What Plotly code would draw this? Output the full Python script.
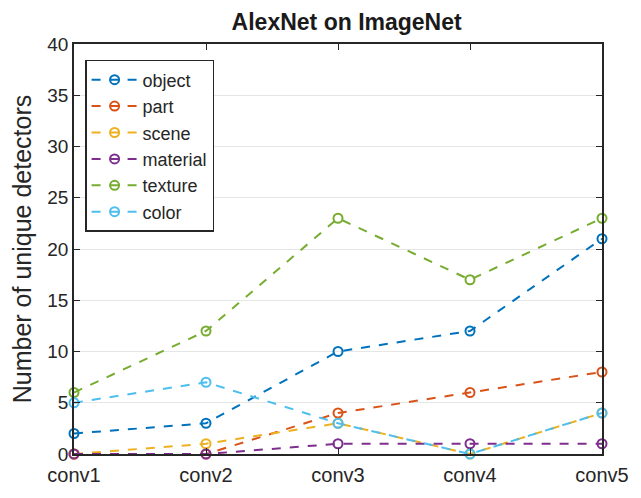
import plotly.graph_objects as go

layers = ["conv1", "conv2", "conv3", "conv4", "conv5"]
object_vals = [2, 3, 10, 12, 21]
part_vals = [0, 0, 4, 6, 8]
scene_vals = [0, 1, 3, 0, 4]
material_vals = [0, 0, 1, 1, 1]
texture_vals = [6, 12, 23, 17, 23]
color_vals = [5, 7, 3, 0, 4]

series = [
    ("object", object_vals, "#0072BD"),
    ("part", part_vals, "#D95319"),
    ("scene", scene_vals, "#EDB120"),
    ("material", material_vals, "#7E2F8E"),
    ("texture", texture_vals, "#77AC30"),
    ("color", color_vals, "#4DBEEE"),
]

fig = go.Figure()
for name, vals, col in series:
    fig.add_trace(go.Scatter(
        x=list(range(len(layers))), y=vals, name=name, mode="lines+markers",
        line=dict(color=col, width=2, dash="dash"),
        marker=dict(symbol="circle-open", size=9, color=col, line=dict(width=2)),
        cliponaxis=False,
    ))

font = "Liberation Sans, Arial, sans-serif"
fig.update_layout(
    width=633, height=490,
    margin=dict(l=66, r=33, t=36, b=40),
    paper_bgcolor="white", plot_bgcolor="white",
    font=dict(family=font, size=19, color="#262626"),
    title=dict(text="<b>AlexNet on ImageNet</b>", x=0.535, xanchor="center",
               y=0.972, yanchor="middle", font=dict(size=23, color="#1a1a1a")),
    showlegend=True,
    legend=dict(x=0.021, y=0.961, xanchor="left", yanchor="top",
                bordercolor="#262626", borderwidth=1.5, bgcolor="white",
                font=dict(size=18, color="#262626"), tracegroupgap=0,
                itemwidth=46),
    xaxis=dict(
        range=[0, 4], tickmode="array", tickvals=list(range(len(layers))),
        ticktext=layers, showgrid=False, zeroline=False,
        showline=True, linecolor="#262626", linewidth=1.5, mirror="ticks",
        ticks="inside", ticklen=6, tickcolor="#262626",
        tickfont=dict(size=20), ticklabelstandoff=2,
    ),
    yaxis=dict(
        range=[0, 40], dtick=5, showgrid=True, gridcolor="#e6e6e6",
        zeroline=False, showline=True, linecolor="#262626", linewidth=1.5,
        mirror="ticks", ticks="inside", ticklen=6, tickcolor="#262626",
        tickfont=dict(size=19),
        title=dict(text="Number of unique detectors", font=dict(size=25), standoff=10),
    ),
)

fig.write_html("out.html")
